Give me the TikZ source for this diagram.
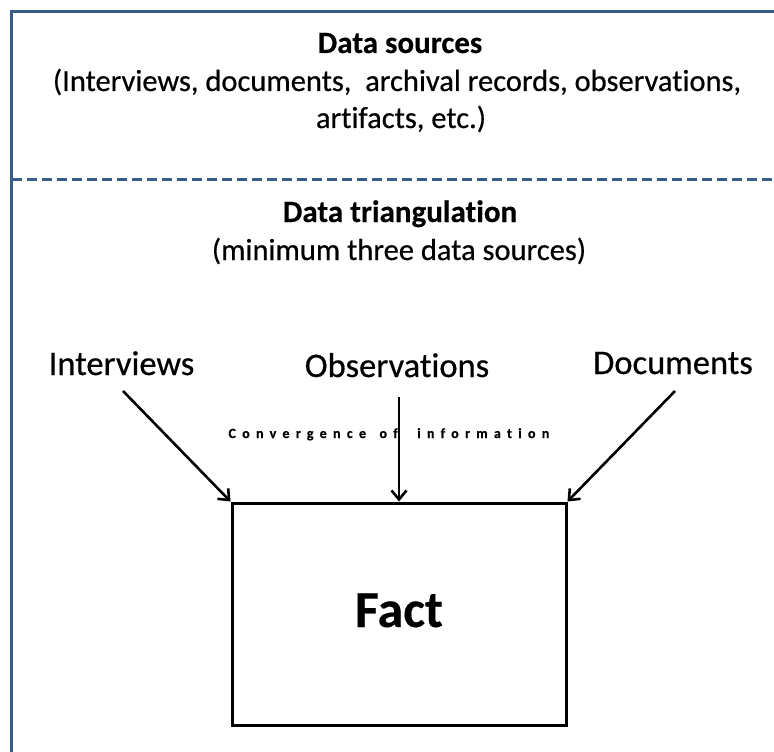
\documentclass[tikz,border=0pt]{standalone}
\usepackage{fontspec}
\usetikzlibrary{arrows.meta}
\setmainfont{Carlito}[Ligatures=CommonOff,FakeBold=0.5,BoldFeatures={FakeBold=0.3}]
\newfontfamily\spacedfont{Carlito}[LetterSpace=45,Ligatures=CommonOff,BoldFeatures={FakeBold=0.4}]
\definecolor{frameblue}{RGB}{56,93,138}
\begin{document}
\begin{tikzpicture}[x=1pt,y=-1pt,
  frameline/.style={draw=frameblue,line width=3pt},
  heading/.style={font=\fontsize{31}{37}\selectfont\bfseries,anchor=base},
  subtext/.style={font=\fontsize{30.5}{37}\selectfont,anchor=base},
  source/.style={font=\fontsize{34.5}{40}\selectfont,anchor=base},
  spaced/.style={font=\fontsize{14}{16}\selectfont\spacedfont\bfseries,inner sep=0pt},
  flow/.style={draw=black,line width=2.6pt,-{Straight Barb[length=9pt,width=15pt,line width=2.6pt]}},
  factbox/.style={draw=black,line width=3pt,minimum width=334pt,minimum height=222pt,inner sep=0pt}]
\useasboundingbox (0,0) rectangle (774,752);
\fill[white] (0,0) rectangle (774,752);
% outer frame and section divider
\draw[frameline] (11,760) -- (11,12) -- (780,12);
\draw[frameline,dash pattern=on 10pt off 5pt] (12,179) -- (774,179);
% upper section
\node[heading] (srctitle) at (400,53) {Data sources};
\node[subtext] (srclist1) at (397,91) {(Interviews, documents,\ \ archival records, observations,};
\node[subtext] (srclist2) at (401,128) {artifacts, etc.)};
% lower section
\node[heading] (tritle) at (400,222) {Data triangulation};
\node[subtext] (trinote) at (399,260) {(minimum three data sources)};
\node[source] (interviews) at (121.5,375) {Interviews};
\node[source] (observations) at (397,377) {Observations};
\node[source] (documents) at (673,374) {Documents};
% label split either side of the middle arrow
\node[spaced,anchor=base east] (conv1) at (398,438) {Convergence\hspace{4pt} of};
\node[spaced,anchor=base west] (conv2) at (417,438) {information};
% the fact box and converging arrows
\node[factbox] (fact) at (399,614) {};
\node[font=\fontsize{52}{58}\selectfont\bfseries,anchor=base] (facttext) at (399,627) {Fact};
\coordinate (intail) at (123,391);
\coordinate (obtail) at (399,397);
\coordinate (doctail) at (675,391);
\draw[flow] (intail) -- (fact.north west);
\draw[flow] (obtail) -- (fact.north);
\draw[flow] (doctail) -- (fact.north east);
\end{tikzpicture}
\end{document}
